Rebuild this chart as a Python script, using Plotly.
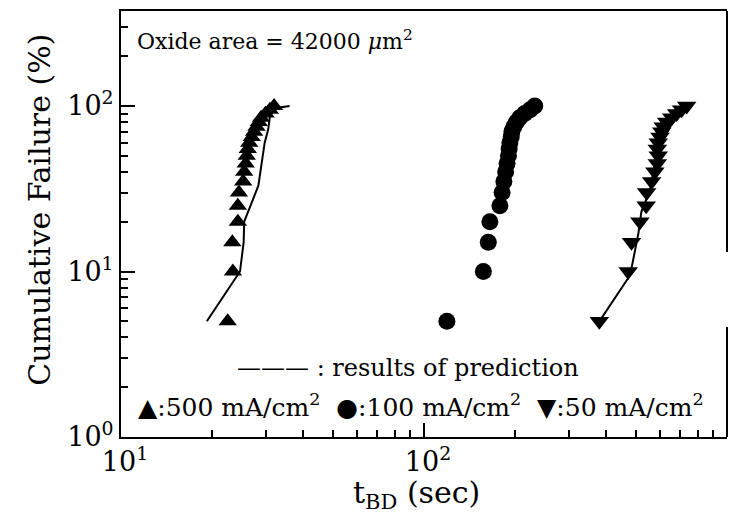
import plotly.graph_objects as go

# Cumulative failure percentiles (y values)
pct = [5, 10, 15, 20, 25, 30, 35, 40, 45, 50, 55, 60, 65, 70, 75, 80, 85, 90, 95, 100]

# t_BD (sec)
t_500 = [22.5, 23.4, 23.3, 24.3, 24.3, 24.5, 25.3, 25.5, 25.8, 26.0, 26.2, 26.5, 27.0, 27.5, 28.0, 28.5, 29.0, 30.0, 31.0, 32.0]
t_100 = [119, 157, 163, 165, 178, 181, 183.5, 186, 188, 190, 191, 192, 194, 195, 198, 202, 207, 215, 224, 232]
t_50 = [379, 472, 484, 516, 541, 543, 564, 578, 589, 593, 589, 593, 601, 609, 616, 632, 657, 682, 708, 736]

# prediction lines
pred_500_t = [19.2, 24.7, 25.4, 25.5, 28.4, 29.1, 29.8, 30.6, 31.0, 32.2, 36.0]
pred_500_y = [5, 10, 15, 20, 33, 45, 60, 72, 86, 97, 100]
pred_50_t = [379, 479, 510, 522, 557, 578, 609, 649, 700, 740]
pred_50_y = [5, 9.5, 17, 23, 31, 45, 60, 75, 90, 100]

x_ticks = [10, 100, 1000]
x_ticktext = ["10<sup>1</sup>", "10<sup>2</sup>", "10<sup>3</sup>"]
y_ticks = [1, 10, 100]
y_ticktext = ["10<sup>0</sup>", "10<sup>1</sup>", "10<sup>2</sup>"]
minor_x = [v * m for v in (10, 100) for m in range(2, 10)]
minor_y = [v * m for v in (1, 10, 100) for m in range(2, 10)]

FONT = "DejaVu Serif"
NB = "\u00a0"

fig = go.Figure()
fig.add_trace(go.Scatter(x=pred_500_t, y=pred_500_y, mode="lines",
                         line=dict(color="black", width=2), showlegend=False))
fig.add_trace(go.Scatter(x=pred_50_t, y=pred_50_y, mode="lines",
                         line=dict(color="black", width=2), showlegend=False))
fig.add_trace(go.Scatter(x=t_500, y=pct, mode="markers",
                         marker=dict(symbol="triangle-up", size=16, color="black"), showlegend=False))
fig.add_trace(go.Scatter(x=t_100, y=pct, mode="markers",
                         marker=dict(symbol="circle", size=17, color="black"), showlegend=False))
fig.add_trace(go.Scatter(x=t_50, y=pct, mode="markers",
                         marker=dict(symbol="triangle-down", size=17, color="black"), showlegend=False))

fig.update_layout(
    width=741, height=511,
    margin=dict(l=113, r=22, t=3, b=82),
    paper_bgcolor="white", plot_bgcolor="white",
    font=dict(family=FONT, color="black", size=26),
    showlegend=False,
)
fig.update_xaxes(
    type="log", range=[1, 3], showgrid=False, zeroline=False, automargin=False,
    showline=True, linecolor="black", linewidth=2, mirror=True,
    ticks="inside", ticklen=14, tickwidth=1.5, tickcolor="black",
    tickvals=x_ticks, ticktext=x_ticktext, tickfont=dict(size=27),
    ticklabelshift=4,
    minor=dict(ticks="inside", ticklen=7, tickwidth=1.5, tickcolor="black", tickvals=minor_x, showgrid=False),
)
fig.update_yaxes(
    type="log", range=[0, 2.574], showgrid=False, zeroline=False, automargin=False,
    showline=True, linecolor="black", linewidth=2, mirror=False,
    ticks="inside", ticklen=14, tickwidth=1.5, tickcolor="black",
    tickvals=y_ticks, ticktext=y_ticktext, tickfont=dict(size=27),
    minor=dict(ticks="inside", ticklen=7, tickwidth=1.5, tickcolor="black", tickvals=minor_y, showgrid=False),
)

# right border with gap
fig.add_shape(type="line", xref="paper", yref="paper", x0=1, x1=1, y0=0.434, y1=1,
              line=dict(color="black", width=2))
fig.add_shape(type="line", xref="paper", yref="paper", x0=1, x1=1, y0=0, y1=0.258,
              line=dict(color="black", width=2))

fig.add_annotation(xref="paper", yref="paper", x=0.023, y=0.932, xanchor="left", yanchor="middle",
                   text="Oxide area = 42000 <i>μ</i>m<sup>2</sup>", showarrow=False, font=dict(size=22))
fig.add_annotation(xref="paper", yref="paper", x=0.474, y=0.162, xanchor="center", yanchor="middle",
                   text="——— : results of prediction", showarrow=False, font=dict(size=24))
fig.add_annotation(xref="paper", yref="paper", x=0.495, y=0.073, xanchor="center", yanchor="middle",
                   text=("▲:500" + NB + "mA/cm<sup>2</sup>" + NB + NB + "●:100" + NB + "mA/cm<sup>2</sup>"
                         + NB + NB + "▼:50" + NB + "mA/cm<sup>2</sup>"),
                   showarrow=False, font=dict(size=25))
fig.add_annotation(xref="paper", yref="paper", x=-0.134, y=0.533, xanchor="center", yanchor="middle",
                   text="Cumulative Failure (%)", textangle=-90, showarrow=False, font=dict(size=30))
fig.add_annotation(xref="paper", yref="paper", x=0.487, y=-0.136, xanchor="center", yanchor="middle",
                   text="t<sub>BD</sub> (sec)", showarrow=False, font=dict(size=30))

fig.write_html("out.html")
